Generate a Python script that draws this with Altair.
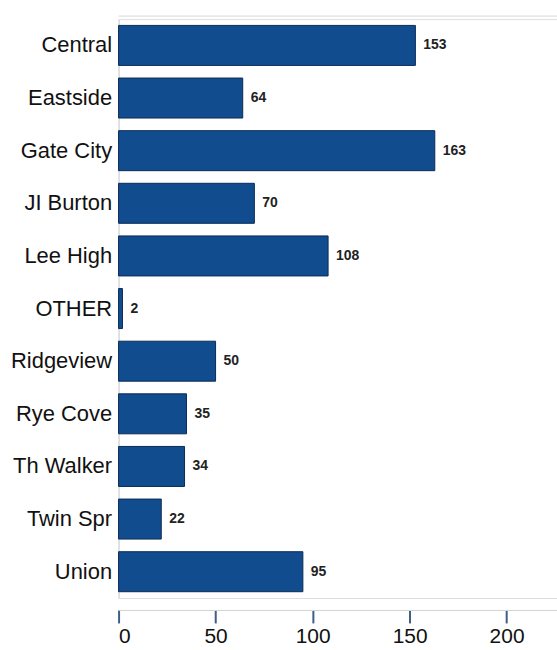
import altair as alt
import pandas as pd

schools = ["Central", "Eastside", "Gate City", "JI Burton", "Lee High", "OTHER",
           "Ridgeview", "Rye Cove", "Th Walker", "Twin Spr", "Union"]
counts = [153, 64, 163, 70, 108, 2, 50, 35, 34, 22, 95]
x_ticks = [0, 50, 100, 150, 200]

df = pd.DataFrame({"school": schools, "count": counts})

W, H = 440, 581
xscale = alt.Scale(domain=[0, 226], nice=False, zero=True)
yscale = alt.Scale(domain=schools, paddingInner=0.24, paddingOuter=0.12)

base = alt.Chart(df)

bars = base.mark_bar(color="#104c8e", stroke="#0b2b57", strokeWidth=1).encode(
    x=alt.X("count:Q", scale=xscale,
            axis=alt.Axis(values=x_ticks, title=None, grid=False, offset=12,
                          domainColor="#d0d4d8", tickColor="#3d5f86", tickSize=13,
                          tickWidth=2, labelFontSize=21, labelColor="#111",
                          labelFont="Liberation Sans", labelPadding=3)),
    y=alt.Y("school:N", scale=yscale, sort=schools,
            axis=alt.Axis(title=None, ticks=False, domainColor="#d0d4d8",
                          labelFontSize=22, labelColor="#111",
                          labelFont="Liberation Sans", labelPadding=7)),
)

labels = base.mark_text(align="left", baseline="middle", dx=8, fontSize=14,
                        fontWeight="bold", font="Liberation Sans", color="#222").encode(
    x=alt.X("count:Q", scale=xscale),
    y=alt.Y("school:N", scale=yscale, sort=schools),
    text=alt.Text("count:Q"),
)

topline = alt.Chart(pd.DataFrame({"a": [0]})).mark_rule(color="#d6d9dc", strokeWidth=1).encode(
    x=alt.value(0), x2=alt.value(W), y=alt.value(-3)
)

chart = alt.layer(bars, labels, topline).properties(
    width=W, height=H,
    autosize=alt.AutoSizeParams(type="none"),
    padding={"left": 119, "top": 18, "right": 0, "bottom": 51},
).configure_view(stroke=None).configure(background="white")

chart.save("out.html", embed_options={"renderer": "svg", "actions": False})
